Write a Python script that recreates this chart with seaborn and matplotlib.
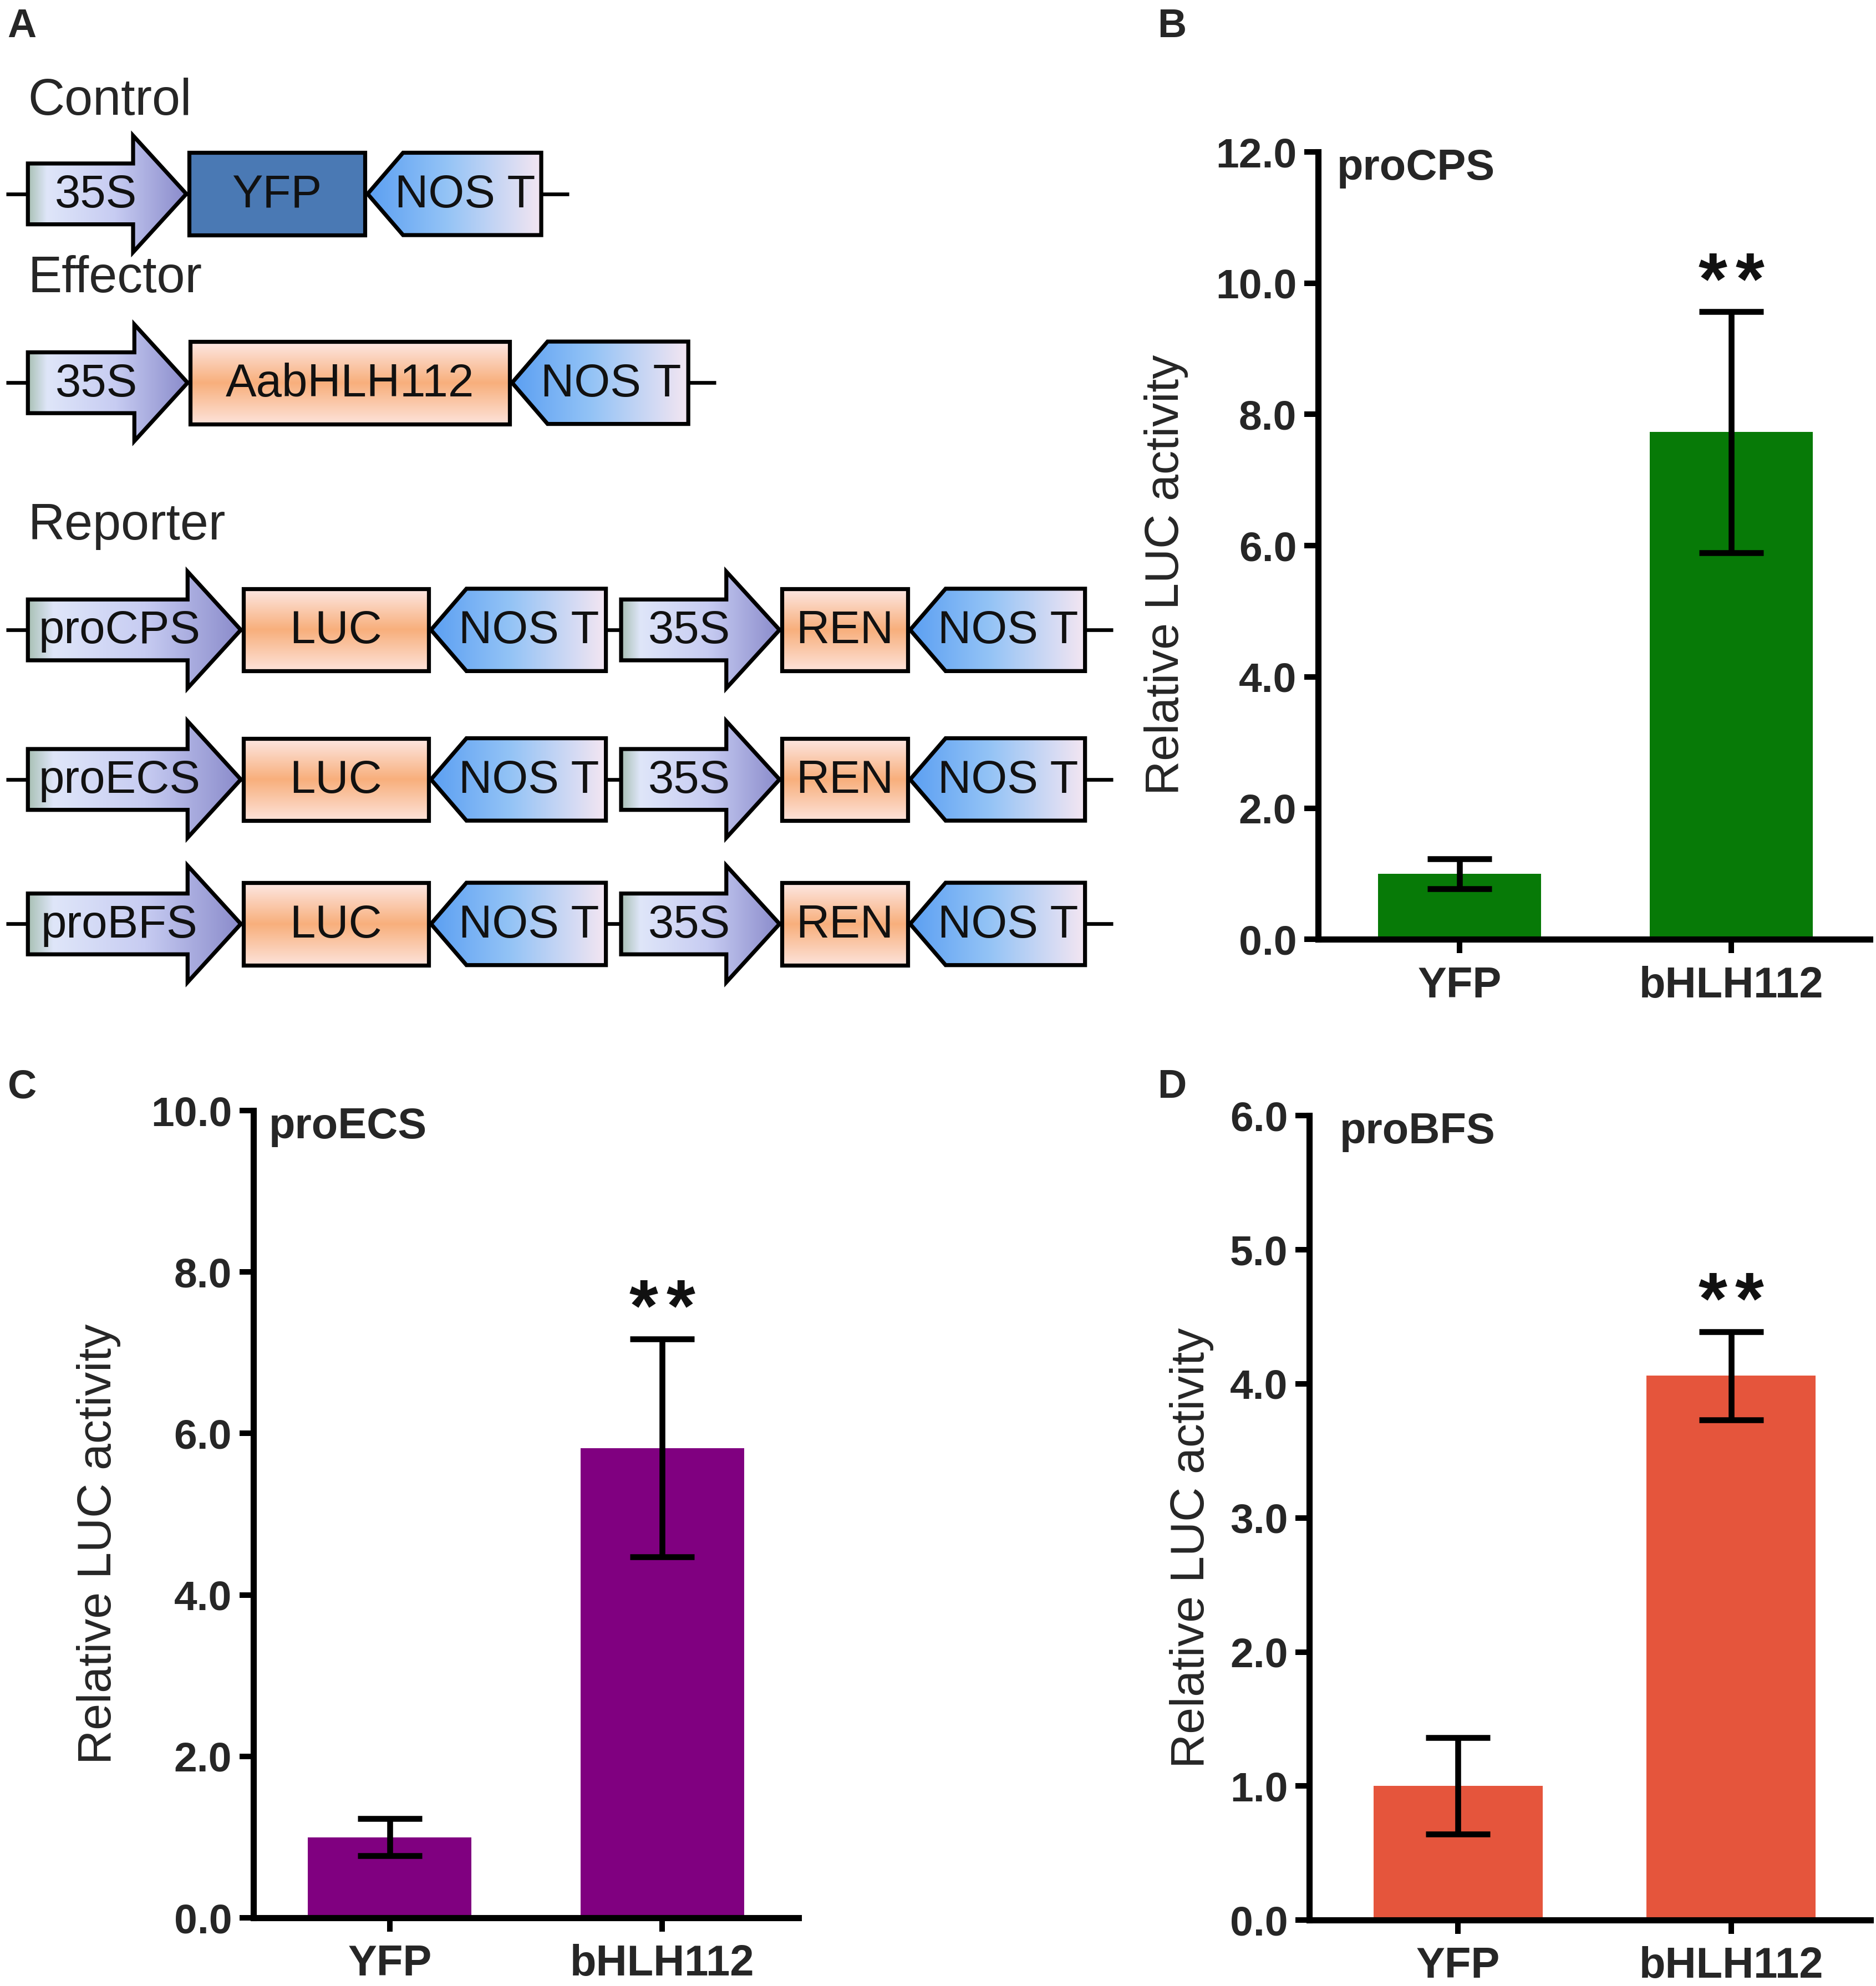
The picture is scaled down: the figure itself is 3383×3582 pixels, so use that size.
import numpy as np
import pandas as pd
import matplotlib
matplotlib.use("Agg")
import matplotlib.pyplot as plt
import seaborn as sns
from matplotlib.patches import Polygon
from matplotlib.colors import LinearSegmentedColormap

# ---- data ----
groups = ["YFP", "bHLH112"]
significance = ["", "**"]

cps_mean = [1.00, 7.73]
cps_err = [0.23, 1.84]
cps_ticks = [0, 2, 4, 6, 8, 10, 12]

ecs_mean = [1.00, 5.82]
ecs_err = [0.23, 1.35]
ecs_ticks = [0, 2, 4, 6, 8, 10]

bfs_mean = [1.00, 4.06]
bfs_err = [0.36, 0.33]
bfs_ticks = [0, 1, 2, 3, 4, 5, 6]

# constructs for panel A: (kind, label, length in diagram units)
control_parts = [("promoter", "35S", 125), ("yfp", "YFP", 139), ("term", "NOS T", 137)]
effector_parts = [("promoter", "35S", 126), ("cds", "AabHLH112", 252), ("term", "NOS T", 139)]
reporter_promoters = ["proCPS", "proECS", "proBFS"]
reporter_tail = [("cds", "LUC", 146), ("term", "NOS T", 138), ("gap", "", 8),
                 ("promoter", "35S", 125), ("cds", "REN", 99), ("term", "NOS T", 138)]

PROMOTER_STOPS = [(0.0, "#a8c0b4"), (0.12, "#dfe6f9"), (0.55, "#c7ccf2"), (1.0, "#8a8bcb")]
TERM_STOPS = [(0.0, "#5b9ff2"), (0.45, "#93c3f6"), (1.0, "#f4e6f2")]
CDS_STOPS = [(0.0, "#fde8e4"), (0.5, "#f8af7c"), (1.0, "#fde3da")]
YFP_COLOR = "#4a79b4"

sns.set_theme(style="ticks")
plt.rcParams["font.family"] = ["Liberation Sans", "DejaVu Sans"]

W, H, DPI = 3383, 3582, 200
fig = plt.figure(figsize=(W / DPI, H / DPI), dpi=DPI)


def _gradient(ax, patch, stops, horizontal, x0, x1, y0, y1):
    cmap = LinearSegmentedColormap.from_list("g", stops)
    ramp = np.linspace(0, 1, 256)
    img = ramp[None, :] if horizontal else ramp[:, None]
    im = ax.imshow(img, cmap=cmap, extent=(x0, x1, y1, y0), origin="upper",
                   aspect="auto", interpolation="bilinear", zorder=2)
    im.set_clip_path(patch)


def _draw_part(ax, kind, label, x0, w, yc):
    lw = 2.6
    if kind == "promoter":
        head, bh, hh = 42, 24, 46
        pts = [(x0, yc - bh), (x0 + w - head, yc - bh), (x0 + w - head, yc - hh), (x0 + w, yc),
               (x0 + w - head, yc + hh), (x0 + w - head, yc + bh), (x0, yc + bh)]
        patch = Polygon(pts, closed=True, facecolor="none", edgecolor="black", lw=lw,
                        joinstyle="miter", zorder=3)
        ax.add_patch(patch)
        _gradient(ax, patch, PROMOTER_STOPS, True, x0, x0 + w, yc - hh, yc + hh)
        tx = x0 + 0.43 * w
    elif kind == "term":
        d, h = 28, 32.5
        pts = [(x0, yc), (x0 + d, yc - h), (x0 + w, yc - h), (x0 + w, yc + h), (x0 + d, yc + h)]
        patch = Polygon(pts, closed=True, facecolor="none", edgecolor="black", lw=lw,
                        joinstyle="miter", zorder=3)
        ax.add_patch(patch)
        _gradient(ax, patch, TERM_STOPS, True, x0, x0 + w, yc - h, yc + h)
        tx = x0 + 0.56 * w
    else:
        h = 32.5
        pts = [(x0, yc - h), (x0 + w, yc - h), (x0 + w, yc + h), (x0, yc + h)]
        face = YFP_COLOR if kind == "yfp" else "none"
        patch = Polygon(pts, closed=True, facecolor=face, edgecolor="black", lw=lw,
                        joinstyle="miter", zorder=3)
        ax.add_patch(patch)
        if kind == "cds":
            _gradient(ax, patch, CDS_STOPS, False, x0, x0 + w, yc - h, yc + h)
        tx = x0 + w / 2
    ax.text(tx, yc + 1, label, ha="center", va="center", fontsize=30, color="#111111", zorder=4)


def _draw_construct(ax, parts, yc, x_start=22, sep=2):
    x = x_start
    for kind, label, w in parts:
        if kind != "gap":
            _draw_part(ax, kind, label, x, w, yc)
        x += w + sep
    ax.plot([5, x + 20], [yc, yc], color="black", lw=2.4, zorder=1, solid_capstyle="butt")


# ---- panel A: construct diagram ----
ax_a = fig.add_axes([0, 1 - 800 / 1567, 880 / 1480, 800 / 1567])
ax_a.set_xlim(0, 880)
ax_a.set_ylim(800, 0)
ax_a.axis("off")

ax_a.text(22, 80, "Control", fontsize=33, va="center", ha="left")
_draw_construct(ax_a, control_parts, 153)
ax_a.text(22, 220, "Effector", fontsize=33, va="center", ha="left")
_draw_construct(ax_a, effector_parts, 302)
ax_a.text(22, 415, "Reporter", fontsize=33, va="center", ha="left")
for yc, pro in zip([497, 615, 729], reporter_promoters):
    _draw_construct(ax_a, [("promoter", pro, 168)] + reporter_tail, yc)
ax_a.set_xlim(0, 880)
ax_a.set_ylim(800, 0)


# ---- bar panels ----
def bar_panel(rect, means, errs, ticks, color, tag, xlim, label_x, tag_x, width=0.6):
    ax = fig.add_axes(rect)
    df = pd.DataFrame({"Construct": groups, "Activity": means})
    sns.barplot(data=df, x="Construct", y="Activity", order=groups, color=color,
                saturation=1, width=width, errorbar=None, linewidth=0, ax=ax)
    ax.errorbar(x=np.arange(len(groups)), y=means, yerr=errs, fmt="none", ecolor="black",
                elinewidth=3.8, capsize=21, capthick=3.8, zorder=5)
    ymax = ticks[-1]
    for i, (m, e, s) in enumerate(zip(means, errs, significance)):
        # one asterisk per glyph so the gap between them matches the original
        offsets = (np.arange(len(s)) - (len(s) - 1) / 2) * 24
        for ch, dx in zip(s, offsets):
            ax.annotate(ch, xy=(i, m + e + 0.058 * ymax), xytext=(dx, -25),
                        textcoords="offset points", ha="center", va="baseline",
                        fontsize=48, fontweight="bold", color="#111111")
    ax.set_ylim(0, ymax)
    ax.set_xlim(*xlim)
    ax.set_yticks(ticks, [f"{t:.1f}" for t in ticks], fontweight="bold", fontsize=27)
    ax.set_xticks(range(len(groups)), groups, fontweight="bold", fontsize=28)
    ax.set_xlabel("")
    ax.set_ylabel("Relative LUC activity", fontsize=31)
    ax.yaxis.set_label_coords(label_x, 0.463)
    ax.yaxis.label.set_verticalalignment("center")
    ax.tick_params(axis="both", length=9, width=3.6, color="black", direction="out")
    ax.tick_params(axis="y", pad=5)
    ax.tick_params(axis="x", pad=8)
    for side in ("top", "right"):
        ax.spines[side].set_visible(False)
    for side in ("left", "bottom"):
        ax.spines[side].set_linewidth(4.0)
        ax.spines[side].set_color("black")
    ax.text(tag_x, 1.005, tag, transform=ax.transAxes, ha="left", va="top",
            fontsize=28, fontweight="bold")
    ax.set_facecolor("none")
    return ax


bar_panel([0.7027, 0.527, 0.294, 0.3965], cps_mean, cps_err, cps_ticks, "#077a07",
          "proCPS", (-0.52, 1.51), -0.276, 0.034)
bar_panel([0.1351, 0.0343, 0.2906, 0.4065], ecs_mean, ecs_err, ecs_ticks, "#800080",
          "proECS", (-0.50, 1.50), -0.284, 0.028)
bar_panel([0.698, 0.0332, 0.299, 0.405], bfs_mean, bfs_err, bfs_ticks, "#e5553c",
          "proBFS", (-0.544, 1.51), -0.21, 0.054, width=0.62)

for letter, x, y in [("A", 0.004, 0.996), ("B", 0.617, 0.996), ("C", 0.004, 0.462), ("D", 0.617, 0.462)]:
    fig.text(x, y, letter, ha="left", va="top", fontsize=26, fontweight="bold")

fig.savefig("out.png", dpi=DPI, facecolor="white")
